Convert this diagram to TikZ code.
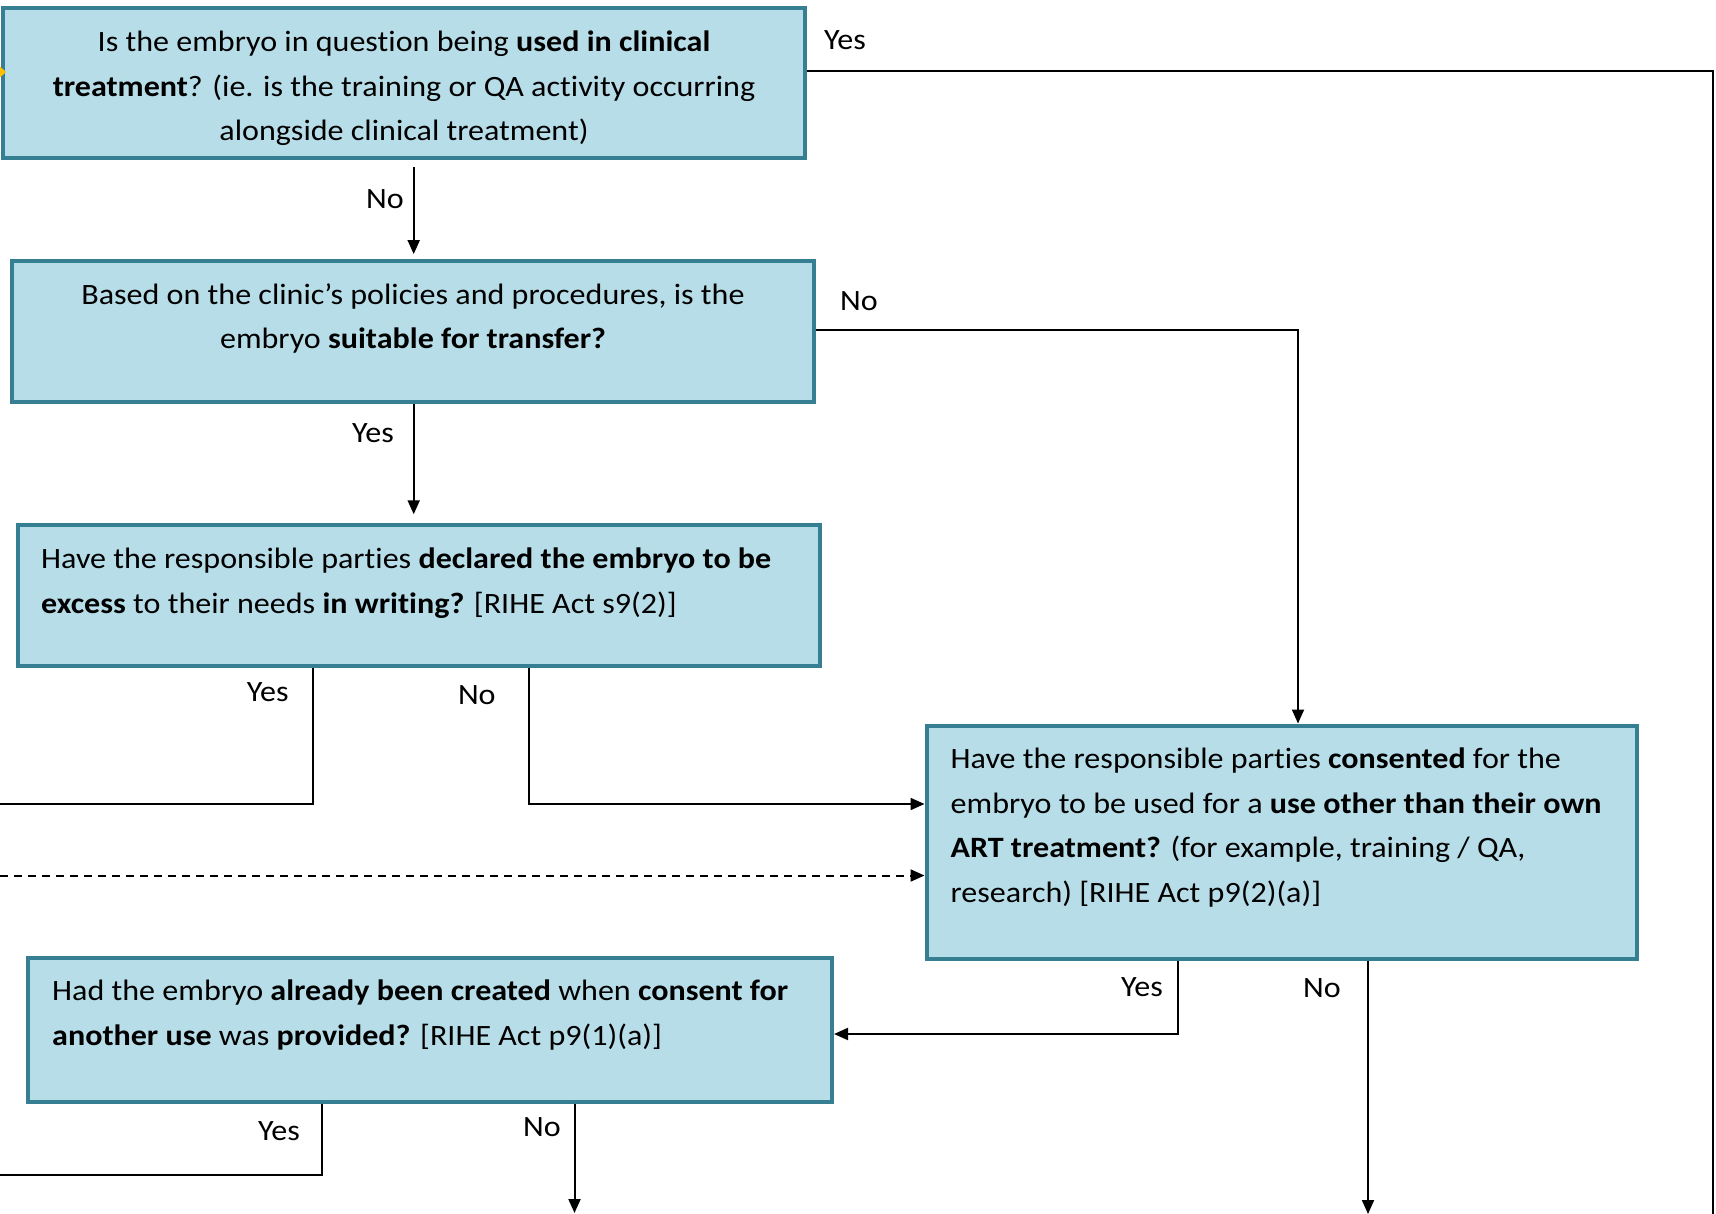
\documentclass[tikz,border=0pt]{standalone}
\usepackage{fontspec}
\setmainfont{Carlito}[FakeStretch=1.087,Ligatures={NoCommon}]
\usetikzlibrary{arrows.meta,calc}
\definecolor{boxfill}{HTML}{B7DDE8}
\definecolor{boxline}{HTML}{367F92}
\definecolor{markyellow}{HTML}{FFC000}
\begin{document}
\begin{tikzpicture}[x=1pt,y=-1pt,
  qbox/.style={draw=boxline, line width=4pt, fill=boxfill, inner sep=0pt, outer sep=2pt, rectangle},
  qtext/.style={inner sep=0pt, font=\fontsize{29.5}{44.4}\selectfont},
  lbl/.style={inner sep=0pt, anchor=base, font=\fontsize{29.5}{44.4}\selectfont},
  conn/.style={line width=2pt, draw=black},
  arr/.style={conn, -{Triangle[length=14pt,width=12pt]}}]
\useasboundingbox[fill=white] (0,0) rectangle (1716,1214);

% boxes
\node[qbox, minimum width=802pt, minimum height=150pt] (b1) at (403.5,83.5) {};
\node[qbox, minimum width=802pt, minimum height=141pt] (b2) at (412.5,331.6) {};
\node[qbox, minimum width=802pt, minimum height=141pt] (b3) at (419.25,595.75) {};
\node[qbox, minimum width=710pt, minimum height=233pt] (b4) at (1281.5,842) {};
\node[qbox, minimum width=804pt, minimum height=144pt] (b5) at (430,1029.5) {};

% texts
\node[qtext, align=center, anchor=north] (t1) at (404,20.6)
  {\strut Is the embryo in question being \textbf{used in clinical}\\
   \strut\textbf{treatment}? (ie. is the training or QA activity occurring\\
   \strut alongside clinical treatment)};
\node[qtext, align=center, anchor=north] (t2) at (413,273.1)
  {\strut Based on the clinic’s policies and procedures, is the\\
   \strut embryo \textbf{suitable for transfer?}};
\node[qtext, align=left, anchor=north west] (t3) at (41,537.6)
  {\strut Have the responsible parties \textbf{declared the embryo to be}\\
   \strut\textbf{excess} to their needs \textbf{in writing?} [RIHE Act s9(2)]};
\node[qtext, align=left, anchor=north west] (t4) at (950.5,737.6)
  {\strut Have the responsible parties \textbf{consented} for the\\
   \strut embryo to be used for a \textbf{use other than their own}\\
   \strut\textbf{ART treatment?} (for example, training / QA,\\
   \strut research) [RIHE Act p9(2)(a)]};
\node[qtext, align=left, anchor=north west] (t5) at (52,969.6)
  {\strut Had the embryo \textbf{already been created} when \textbf{consent for}\\
   \strut\textbf{another use} was \textbf{provided?} [RIHE Act p9(1)(a)]};

% yellow marker
\fill[markyellow] (0,66.5) -- (6,72) -- (0,77.5) -- cycle;

% coordinates
\coordinate (c1) at (1713,71);
\coordinate (e1) at (1713,1214);
\coordinate (x12) at (413.7,0);
\coordinate (c24) at (1298,330.5);
\coordinate (c3y) at (312.5,804);
\coordinate (e3y) at (0,804);
\coordinate (c3n) at (528.6,804);
\coordinate (d0) at (0,875.5);
\coordinate (c4y) at (1177.6,1034);
\coordinate (x4n) at (1368,0);
\coordinate (e4n) at (1368,1214);
\coordinate (c5y) at (321.8,1175);
\coordinate (e5y) at (0,1175);
\coordinate (x5n) at (574.5,0);
\coordinate (e5n) at (574.5,1213);

% connectors
\draw[conn] (b1.east |- c1) -- (c1) -- (e1);
\draw[arr] ($(b1.south -| x12)+(0,7)$) -- ($(b2.north -| x12)+(0,-5)$);
\draw[arr] (b2.east |- c24) -- (c24) -- (b4.north -| c24);
\draw[arr] (b2.south -| x12) -- ($(b3.north -| x12)+(0,-9)$);
\draw[conn] (b3.south -| c3y) -- (c3y) -- (e3y);
\draw[arr] (b3.south -| c3n) -- (c3n) -- (b4.west |- c3n);
\draw[arr, dash pattern=on 8pt off 6pt] (d0) -- (b4.west |- d0);
\draw[arr] (b4.south -| c4y) -- (c4y) -- (b5.east |- c4y);
\draw[arr] (b4.south -| x4n) -- (e4n);
\draw[conn] (b5.south -| c5y) -- (c5y) -- (e5y);
\draw[arr] (b5.south -| x5n) -- (e5n);

% labels
\node[lbl] (l1) at (845,50) {Yes};
\node[lbl] (l2) at (385,209) {No};
\node[lbl] (l3) at (859,311) {No};
\node[lbl] (l4) at (373,442) {Yes};
\node[lbl] (l5) at (267.7,701.7) {Yes};
\node[lbl] (l6) at (476.8,704) {No};
\node[lbl] (l7) at (1142,996) {Yes};
\node[lbl] (l8) at (1322,997.7) {No};
\node[lbl] (l9) at (279,1140) {Yes};
\node[lbl] (l10) at (542,1136.7) {No};
\end{tikzpicture}
\end{document}
